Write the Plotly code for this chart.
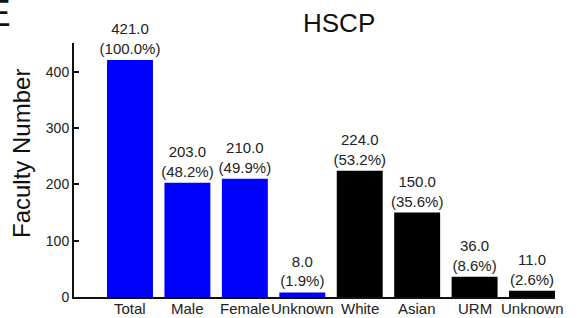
import plotly.graph_objects as go

categories = ["Total", "Male", "Female", "Unknown", "White", "Asian", "URM", "Unknown"]
values = [421.0, 203.0, 210.0, 8.0, 224.0, 150.0, 36.0, 11.0]
percents = ["100.0%", "48.2%", "49.9%", "1.9%", "53.2%", "35.6%", "8.6%", "2.6%"]
colors = ["#0000FF"] * 4 + ["#000000"] * 4
y_ticks = [0, 100, 200, 300, 400]

W, H = 582, 318
ML, MR, MT, MB = 74, 27, 43, 21
PW, PH = W - ML - MR, H - MT - MB
FONT = "Liberation Sans, Arial, Helvetica, sans-serif"

xs = list(range(len(categories)))
labels = [f"{v:.1f}<br>({p})" for v, p in zip(values, percents)]

fig = go.Figure(go.Bar(
    x=xs, y=values, marker=dict(color=colors, line=dict(width=0)),
    text=labels, textposition="outside", cliponaxis=False, constraintext="none",
    textfont=dict(family=FONT, size=15, color="#222"),
    width=0.8, hoverinfo="skip",
))

fig.update_layout(
    width=W, height=H,
    margin=dict(l=ML, r=MR, t=MT, b=MB, autoexpand=False),
    plot_bgcolor="white", paper_bgcolor="white",
    showlegend=False,
    font=dict(family=FONT, color="#222"),
)
fig.update_xaxes(
    range=[-0.975, 7.4], tickvals=xs, showticklabels=False,
    showline=True, linecolor="#111", linewidth=2, ticks="",
    showgrid=False, zeroline=False, automargin=False,
)
fig.update_yaxes(
    range=[0, 451], tickvals=y_ticks, ticks="inside", ticklen=5, tickwidth=2,
    tickcolor="#111", showline=True, linecolor="#111", linewidth=2,
    showgrid=False, zeroline=False, tickfont=dict(size=14, family=FONT, color="#222"),
    automargin=False,
)
for xv, name in zip(xs, categories):
    fig.add_annotation(text=name, x=xv, xref="x", yref="paper",
                       y=-(308 - (H - MB)) / PH, xanchor="center", yanchor="middle",
                       showarrow=False, font=dict(size=15, family=FONT, color="#222"))
fig.add_annotation(text="HSCP", xref="paper", yref="paper",
                   x=(339 - ML) / PW, y=1 + (MT - 23) / PH,
                   xanchor="center", yanchor="middle", showarrow=False,
                   font=dict(size=26, family=FONT, color="#111"))
fig.add_annotation(text="Faculty Number", xref="paper", yref="paper",
                   x=(21 - ML) / PW, y=(H - MB - 154) / PH,
                   xanchor="center", yanchor="middle", textangle=-90, showarrow=False,
                   font=dict(size=24, family=FONT, color="#111"))
fig.add_annotation(text="E", xref="paper", yref="paper",
                   x=(-16 - ML) / PW, y=1 + (MT - 14) / PH,
                   xanchor="left", yanchor="middle", showarrow=False,
                   font=dict(size=37, family=FONT, color="#111"))

fig.write_html("out.html", config={"displayModeBar": False},
               post_script="document.body.style.margin='0';")
